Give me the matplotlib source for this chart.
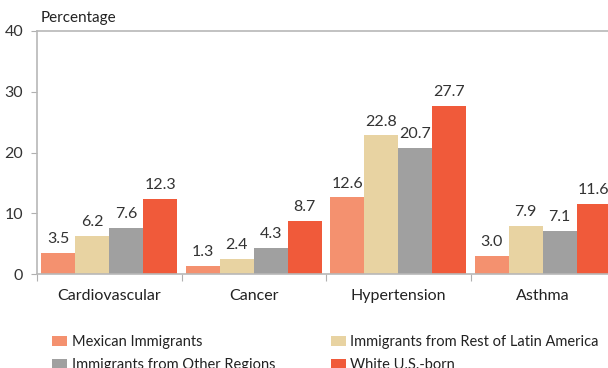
import matplotlib
matplotlib.use("Agg")
import matplotlib.pyplot as plt
import numpy as np

plt.rcParams['font.family'] = ['Lato', 'DejaVu Sans']

categories = ["Cardiovascular", "Cancer", "Hypertension", "Asthma"]
series_names = ["Mexican Immigrants", "Immigrants from Rest of Latin America",
                "Immigrants from Other Regions", "White U.S.-born"]
mexican = [3.5, 1.3, 12.6, 3.0]
rest_latin = [6.2, 2.4, 22.8, 7.9]
other_regions = [7.6, 4.3, 20.7, 7.1]
white_usborn = [12.3, 8.7, 27.7, 11.6]
colors = ["#F4916F", "#E8D3A2", "#A0A0A0", "#F05A3A"]
y_ticks = [0, 10, 20, 30, 40]

W, H = 608, 368
fig = plt.figure(figsize=(W / 100, H / 100), dpi=100)
ax = fig.add_axes([37 / W, (H - 274) / H, (615 - 37) / W, (274 - 31) / H])

values = [mexican, rest_latin, other_regions, white_usborn]
x = np.arange(len(categories))
bw = 0.235
handles = []
for i, (vals, name, c) in enumerate(zip(values, series_names, colors)):
    pos = x + (i - 1.5) * bw
    bars = ax.bar(pos, vals, bw, color=c, label=name, linewidth=0)
    handles.append(bars)
    for b, v in zip(bars, vals):
        ax.annotate(f"{v:.1f}", (b.get_x() + b.get_width() / 2, v),
                    xytext=(0, 5), textcoords="offset points",
                    ha="center", va="bottom", fontsize=11.5, color="#333333")

ax.set_xlim(-0.5, len(categories) - 0.5)
ax.set_ylim(0, 40)
ax.set_yticks(y_ticks)
ax.set_yticklabels([str(t) for t in y_ticks], fontsize=11.5, color="#333333")
ax.set_xticks(np.arange(len(categories) + 1) - 0.5)
ax.set_xticklabels([])
ax.set_xticks(x, minor=True)
ax.set_xticklabels(categories, minor=True, fontsize=11.5, color="#222222")
ax.tick_params(axis="x", which="minor", length=0, pad=11)
ax.tick_params(axis="x", which="major", length=5, color="#B0B0B0", direction="out")
ax.tick_params(axis="y", length=4, color="#B0B0B0", pad=6)

for s in ["left", "bottom", "top", "right"]:
    ax.spines[s].set_color("#B8B8B8")
    ax.spines[s].set_linewidth(1.2)

fig.text(41 / W, 1 - 18 / H, "Percentage", fontsize=11, color="#222222",
         va="center", ha="left")

# legend fills row by row: Mexican | Rest of Latin America / Other Regions | White
order = [0, 2, 1, 3]
fig.legend([handles[k] for k in order], [series_names[k] for k in order],
           loc="upper left", bbox_to_anchor=(52 / W, 1 - 335 / H), ncol=2,
           frameon=False, fontsize=10.5, handlelength=1.05, handleheight=0.65,
           handletextpad=0.3, columnspacing=3.8, labelspacing=0.6,
           borderaxespad=0, borderpad=0, labelcolor="#222222")

fig.savefig("out.png", dpi=100)
